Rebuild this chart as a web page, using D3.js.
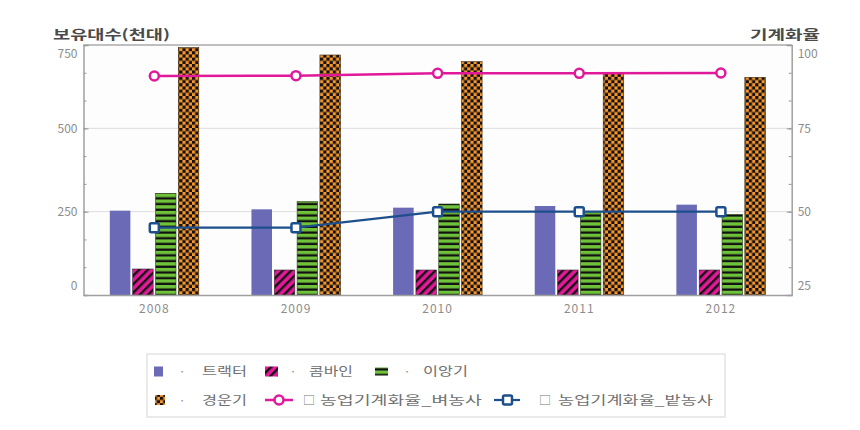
<!DOCTYPE html>
<html>
<head>
<meta charset="utf-8">
<script src="https://cdn.jsdelivr.net/npm/d3@7"></script>
<style>
  html, body { margin: 0; padding: 0; background: #ffffff; }
  svg { display: block; }
  text { font-family: "Noto Sans CJK KR", "Noto Sans", sans-serif; }
</style>
</head>
<body>
<svg id="chart" width="860" height="430"></svg>
<script>
// ---- data ----
const years = ["2008", "2009", "2010", "2011", "2012"];
const tractor = [253, 257, 262, 267, 271];          // 트랙터 (천대)
const combine = [78, 75, 75, 75, 75];               // 콤바인
const transplanter = [305, 280, 273, 250, 242];     // 이앙기
const cultivator = [742, 720, 700, 665, 653];       // 경운기
const riceRate = [90.7, 90.8, 91.5, 91.5, 91.6];    // 농업기계화율_벼농사 (%)
const fieldRate = [45.2, 45.2, 50.0, 50.0, 50.0];   // 농업기계화율_밭농사 (%)
const leftTicks = [0, 250, 500, 750];
const rightTicks = [25, 50, 75, 100];
const barSeries = ["트랙터", "콤바인", "이앙기", "경운기"];
const lineSeries = ["농업기계화율_벼농사", "농업기계화율_밭농사"];
const leftTitle = "보유대수(천대)";
const rightTitle = "기계화율";

const svg = d3.select("#chart");
const M = { left: 83.5, right: 791.7, top: 45, bottom: 295 };

const x = d3.scaleBand().domain(years).range([M.left, M.right]).padding(0);
const yL = d3.scaleLinear().domain([0, 750]).range([M.bottom, M.top]);
const yR = d3.scaleLinear().domain([25, 100]).range([M.bottom, M.top]);
const inner = d3.scaleBand().domain(barSeries).range([-44.5, 44.5]).paddingInner(0.1);

// ---- patterns ----
const defs = svg.append("defs");
const colBlue = "#6a6ab6", colPink = "#e5189a", colGreen = "#6fc23a", colOrange = "#f7962c";

const pPink = defs.append("pattern").attr("id", "pPink").attr("patternUnits", "userSpaceOnUse")
  .attr("width", 6).attr("height", 6).attr("patternTransform", "rotate(45)");
pPink.append("rect").attr("width", 6).attr("height", 6).attr("fill", colPink);
pPink.append("rect").attr("width", 2.4).attr("height", 6).attr("fill", "#111");

const pGreen = defs.append("pattern").attr("id", "pGreen").attr("patternUnits", "userSpaceOnUse")
  .attr("width", 6).attr("height", 5.7);
pGreen.append("rect").attr("width", 6).attr("height", 5.7).attr("fill", colGreen);
pGreen.append("rect").attr("y", 3.4).attr("width", 6).attr("height", 2.3).attr("fill", "#111");

const pOrange = defs.append("pattern").attr("id", "pOrange").attr("patternUnits", "userSpaceOnUse")
  .attr("width", 6.4).attr("height", 6.4);
pOrange.append("rect").attr("width", 6.4).attr("height", 6.4).attr("fill", colOrange);
pOrange.append("rect").attr("width", 3.2).attr("height", 3.2).attr("fill", "#111");
pOrange.append("rect").attr("x", 3.2).attr("y", 3.2).attr("width", 3.2).attr("height", 3.2).attr("fill", "#111");

const fills = [colBlue, "url(#pPink)", "url(#pGreen)", "url(#pOrange)"];
const strokes = ["none", "#333", "#2b4a18", "#3a2a10"];

// ---- plot background / grid ----
svg.append("rect").attr("x", M.left).attr("y", M.top)
  .attr("width", M.right - M.left).attr("height", M.bottom - M.top).attr("fill", "#fdfdfd");

svg.append("g").selectAll("line").data([250, 500]).join("line")
  .attr("x1", M.left).attr("x2", M.right)
  .attr("y1", d => yL(d)).attr("y2", d => yL(d))
  .attr("stroke", "#dcdcdc").attr("stroke-width", 1);

// top frame
svg.append("line").attr("x1", M.left).attr("x2", M.right)
  .attr("y1", M.top).attr("y2", M.top).attr("stroke", "#aaaaaa").attr("stroke-width", 1.5);

// ---- bars ----
const barData = [tractor, combine, transplanter, cultivator];
barData.forEach((arr, si) => {
  svg.append("g").selectAll("rect").data(arr).join("rect")
    .attr("x", (d, i) => x(years[i]) + x.bandwidth() / 2 + inner(barSeries[si]))
    .attr("width", inner.bandwidth())
    .attr("y", d => yL(d))
    .attr("height", d => yL(0) - yL(d))
    .attr("fill", fills[si])
    .attr("stroke", strokes[si]).attr("stroke-width", 0.6);
});

// ---- axes ----
const minorTicks = d3.range(0, 751, 250 / 3);
const axL = svg.append("g").attr("transform", `translate(${M.left},0)`)
  .call(d3.axisLeft(yL).tickValues(minorTicks).tickSize(-3).tickFormat(""));
axL.selectAll(".tick line").attr("stroke", "#999");
axL.select(".domain").remove();
const axL2 = svg.append("g").attr("transform", `translate(${M.left},0)`)
  .call(d3.axisLeft(yL).tickValues(leftTicks).tickSize(-5).tickPadding(6));
axL2.select(".domain").attr("stroke", "#a0a0a0").attr("stroke-width", 1.5);
axL2.selectAll(".tick line").attr("stroke", "#999");
axL2.selectAll(".tick text").attr("fill", "#8c8c8c").attr("font-size", 12)
  .attr("font-family", "'Liberation Sans', Arial, sans-serif")
  .attr("dy", d => d === 750 ? "1.05em" : d === 0 ? "-0.5em" : "0.32em");

const minorR = d3.range(25, 101, 25 / 3);
const axR = svg.append("g").attr("transform", `translate(${M.right},0)`)
  .call(d3.axisRight(yR).tickValues(minorR).tickSize(-3).tickFormat(""));
axR.selectAll(".tick line").attr("stroke", "#999");
axR.select(".domain").remove();
const axR2 = svg.append("g").attr("transform", `translate(${M.right},0)`)
  .call(d3.axisRight(yR).tickValues(rightTicks).tickSize(-5).tickPadding(6));
axR2.select(".domain").attr("stroke", "#a0a0a0").attr("stroke-width", 1.5);
axR2.selectAll(".tick line").attr("stroke", "#999");
axR2.selectAll(".tick text").attr("fill", "#8c8c8c").attr("font-size", 12)
  .attr("font-family", "'Liberation Sans', Arial, sans-serif")
  .attr("dy", d => d === 100 ? "1.0em" : d === 25 ? "-0.5em" : "0.32em");

const axB = svg.append("g").attr("transform", `translate(0,${M.bottom})`)
  .call(d3.axisBottom(x).tickSize(0).tickPadding(9));
axB.select(".domain").attr("stroke", "#a0a0a0").attr("stroke-width", 1.5);
axB.selectAll(".tick text").attr("fill", "#8c8c8c").attr("font-size", 12)
  .attr("font-family", "'Liberation Sans', Arial, sans-serif").attr("letter-spacing", 1);

// ---- lines ----
const cx = i => x(years[i]) + x.bandwidth() / 2;
const lineGen = d3.line().x((d, i) => cx(i)).y(d => yR(d));
const colRiceLine = "#e0199a", colFieldLine = "#1d4f8c";

svg.append("path").datum(riceRate).attr("d", lineGen)
  .attr("fill", "none").attr("stroke", colRiceLine).attr("stroke-width", 2.5);
svg.append("g").selectAll("circle").data(riceRate).join("circle")
  .attr("cx", (d, i) => cx(i)).attr("cy", d => yR(d)).attr("r", 4.5)
  .attr("fill", "#fff").attr("stroke", colRiceLine).attr("stroke-width", 2.5);

svg.append("path").datum(fieldRate).attr("d", lineGen)
  .attr("fill", "none").attr("stroke", colFieldLine).attr("stroke-width", 2.2);
svg.append("g").selectAll("rect").data(fieldRate).join("rect")
  .attr("x", (d, i) => cx(i) - 4.5).attr("y", d => yR(d) - 4.5)
  .attr("width", 9).attr("height", 9).attr("rx", 1.5)
  .attr("fill", "#fff").attr("stroke", colFieldLine).attr("stroke-width", 2.5);

// ---- axis titles ----
svg.append("text").attr("x", 53).attr("y", 39).text(leftTitle)
  .attr("font-size", 13).attr("font-weight", "bold").attr("fill", "#4a4a4a")
  .attr("textLength", 117).attr("lengthAdjust", "spacingAndGlyphs");
svg.append("text").attr("x", 750).attr("y", 39).text(rightTitle)
  .attr("font-size", 13).attr("font-weight", "bold").attr("fill", "#4a4a4a")
  .attr("textLength", 70).attr("lengthAdjust", "spacingAndGlyphs");

// ---- legend ----
const lg = svg.append("g");
lg.append("rect").attr("x", 147).attr("y", 354).attr("width", 578).attr("height", 63)
  .attr("fill", "#fff").attr("stroke", "#dddddd").attr("stroke-width", 1.2);
const r1 = 371.5, r2 = 400;
const legText = (xp, yp, t, w) => lg.append("text").attr("x", xp).attr("y", yp + 4.5).text(t)
  .attr("font-size", 12.5).attr("fill", "#707070")
  .attr("textLength", w).attr("lengthAdjust", "spacingAndGlyphs");
const dot = (xp, yp) => lg.append("text").attr("x", xp).attr("y", yp + 4.5).text("·")
  .attr("font-size", 12).attr("fill", "#888").attr("text-anchor", "middle");

// row 1
lg.append("rect").attr("x", 154).attr("y", r1 - 5).attr("width", 9).attr("height", 10).attr("fill", colBlue);
dot(182, r1); legText(202, r1, barSeries[0], 45);
lg.append("rect").attr("x", 265).attr("y", r1 - 5).attr("width", 13).attr("height", 10).attr("fill", "url(#pPink)");
dot(293, r1); legText(309, r1, barSeries[1], 44);
lg.append("rect").attr("x", 375).attr("y", r1 - 4).attr("width", 13).attr("height", 8).attr("fill", "url(#pGreen)");
dot(407, r1); legText(423, r1, barSeries[2], 45);
// row 2
lg.append("rect").attr("x", 155).attr("y", r2 - 5).attr("width", 10).attr("height", 10).attr("fill", "url(#pOrange)");
dot(182, r2); legText(202, r2, barSeries[3], 45);
lg.append("line").attr("x1", 265).attr("x2", 293).attr("y1", r2).attr("y2", r2)
  .attr("stroke", colRiceLine).attr("stroke-width", 2.5);
lg.append("circle").attr("cx", 279).attr("cy", r2).attr("r", 4.5)
  .attr("fill", "#fff").attr("stroke", colRiceLine).attr("stroke-width", 2.5);
lg.append("text").attr("x", 303).attr("y", r2 + 4.5).text("□").attr("font-size", 12).attr("fill", "#777");
legText(320, r2, lineSeries[0], 162);
lg.append("line").attr("x1", 494).attr("x2", 520).attr("y1", r2).attr("y2", r2)
  .attr("stroke", colFieldLine).attr("stroke-width", 2.2);
lg.append("rect").attr("x", 503).attr("y", r2 - 4.5).attr("width", 9).attr("height", 9).attr("rx", 1.5)
  .attr("fill", "#fff").attr("stroke", colFieldLine).attr("stroke-width", 2.5);
lg.append("text").attr("x", 539).attr("y", r2 + 4.5).text("□").attr("font-size", 12).attr("fill", "#777");
legText(558, r2, lineSeries[1], 155);
</script>
</body>
</html>
